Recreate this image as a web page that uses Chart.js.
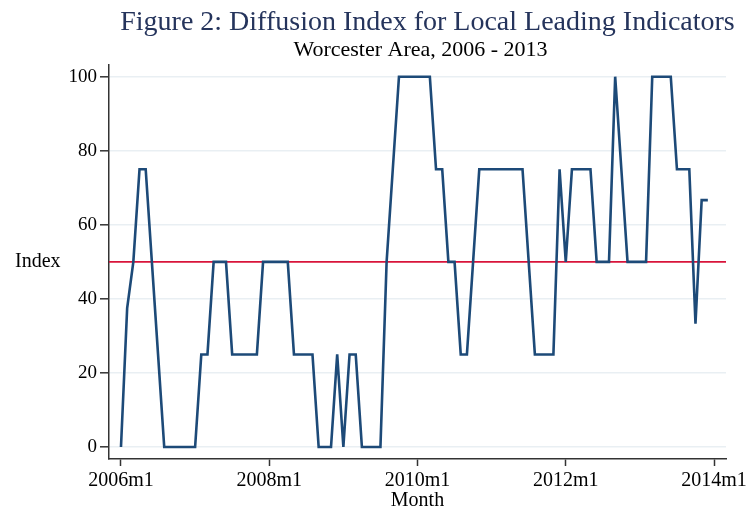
<!DOCTYPE html>
<html>
<head>
<meta charset="utf-8">
<script src="https://cdn.jsdelivr.net/npm/chart.js@4.4.1/dist/chart.umd.min.js"></script>
<style>
  html, body { margin: 0; padding: 0; background: #ffffff; }
  #wrap { width: 753px; height: 529px; position: relative; }
</style>
</head>
<body>
<div id="wrap"><canvas id="c" width="753" height="529"></canvas></div>
<script>
// Months since 2006m1 (0 = 2006m1 ... 95 = 2013m12)
const startYear = 2006;
const indexValues = [
  0, 37.5, 50, 75, 75, 50, 25, 0, 0, 0, 0, 0,          // 2006
  0, 25, 25, 50, 50, 50, 25, 25, 25, 25, 25, 50,       // 2007
  50, 50, 50, 50, 25, 25, 25, 25, 0, 0, 0, 25,         // 2008
  0, 25, 25, 0, 0, 0, 0, 50, 75, 100, 100, 100,        // 2009
  100, 100, 100, 75, 75, 50, 50, 25, 25, 50, 75, 75,   // 2010
  75, 75, 75, 75, 75, 75, 50, 25, 25, 25, 25, 75,      // 2011
  50, 75, 75, 75, 75, 50, 50, 50, 100, 75, 50, 50,     // 2012
  50, 50, 100, 100, 100, 100, 75, 75, 75, 33.33, 66.67, 66.67 // 2013
];
const referenceLevel = 50;
const xTickMonths = [0, 24, 48, 72, 96];
const xTickLabels = ["2006m1", "2008m1", "2010m1", "2012m1", "2014m1"];
const yTickValues = [0, 20, 40, 60, 80, 100];
const titleText = "Figure 2: Diffusion Index for Local Leading Indicators";
const subtitleText = "Worcester Area, 2006 - 2013";
const yAxisTitle = "Index";
const xAxisTitle = "Month";

const xMin = -1.94, xMax = 97.94;
const yMin = -3.24, yMax = 103.16;

const seriesPoints = indexValues.map((v, i) => ({ x: i, y: v }));
const refPoints = [{ x: xMin, y: referenceLevel }, { x: xMax, y: referenceLevel }];

const SERIF = "'Liberation Serif', 'Times New Roman', serif";

const textPlugin = {
  id: 'texts',
  afterDraw(chart) {
    const ctx = chart.ctx;
    const ca = chart.chartArea;
    const cx = (ca.left + ca.right) / 2;
    ctx.save();
    ctx.textAlign = 'center';
    ctx.textBaseline = 'alphabetic';
    ctx.fillStyle = '#25345c';
    ctx.font = "28px " + SERIF;
    ctx.fillText(titleText, cx + 10, 30);
    ctx.fillStyle = '#000000';
    ctx.font = "22px " + SERIF;
    ctx.fillText(subtitleText, cx + 3, 56);
    ctx.textAlign = 'left';
    ctx.textBaseline = 'middle';
    ctx.font = "20px " + SERIF;
    ctx.fillText(yAxisTitle, 15, (ca.top + ca.bottom) / 2);
    ctx.textAlign = 'center';
    ctx.textBaseline = 'alphabetic';
    ctx.fillText(xAxisTitle, cx, 506);
    ctx.restore();
  }
};

new Chart(document.getElementById('c'), {
  type: 'line',
  data: {
    datasets: [
      {
        label: 'Index',
        data: seriesPoints,
        borderColor: '#1d4a78',
        borderWidth: 2.6,
        pointRadius: 0,
        tension: 0,
        fill: false
      },
      {
        label: 'Reference',
        data: refPoints,
        borderColor: '#d8143a',
        borderWidth: 1.6,
        pointRadius: 0,
        tension: 0,
        fill: false
      }
    ]
  },
  options: {
    responsive: false,
    animation: false,
    devicePixelRatio: 1,
    layout: { padding: { top: 65, right: 27, left: 0, bottom: 0 } },
    plugins: {
      legend: { display: false },
      tooltip: { enabled: false },
      title: { display: false }
    },
    scales: {
      x: {
        type: 'linear',
        min: xMin,
        max: xMax,
        afterBuildTicks(scale) { scale.ticks = xTickMonths.map(v => ({ value: v })); },
        afterFit(scale) { scale.height = 70; },
        ticks: {
          autoSkip: false,
          maxRotation: 0,
          padding: 3,
          color: '#000000',
          font: { family: SERIF, size: 20 },
          callback(value) {
            const k = xTickMonths.indexOf(value);
            return k >= 0 ? xTickLabels[k] : '';
          }
        },
        grid: {
          drawOnChartArea: false,
          drawTicks: true,
          tickLength: 7,
          tickColor: '#333333',
          tickWidth: 1.5
        },
        border: { display: true, color: '#333333', width: 1.5 }
      },
      y: {
        type: 'linear',
        min: yMin,
        max: yMax,
        afterBuildTicks(scale) { scale.ticks = yTickValues.map(v => ({ value: v })); },
        afterFit(scale) { scale.width = 109; },
        ticks: {
          autoSkip: false,
          padding: 3,
          color: '#000000',
          font: { family: SERIF, size: 19 }
        },
        grid: {
          drawOnChartArea: true,
          color: '#e9eff3',
          lineWidth: 1.6,
          drawTicks: true,
          tickLength: 9,
          tickColor: '#333333',
          tickWidth: 1.5
        },
        border: { display: true, color: '#333333', width: 1.5 }
      }
    }
  },
  plugins: [textPlugin]
});
</script>
</body>
</html>
